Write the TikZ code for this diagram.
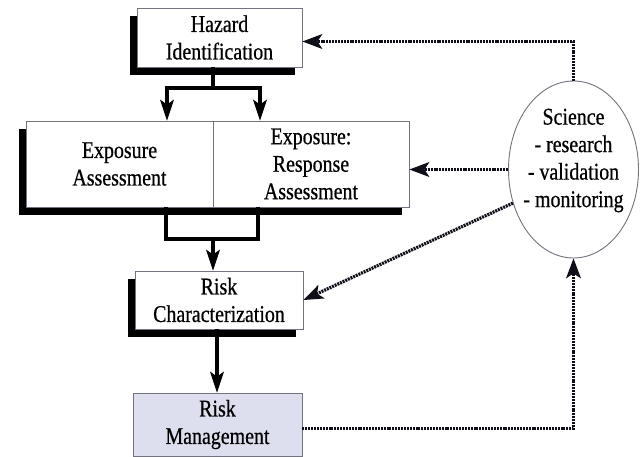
\documentclass[tikz,border=0pt]{standalone}
\usepackage{fontspec}
\setmainfont[FakeStretch=0.83,FakeBold=0.6]{Liberation Serif}
\usetikzlibrary{arrows.meta,backgrounds,shadows,shapes.geometric}
\definecolor{boxgray}{RGB}{115,115,128}
\definecolor{mgmtfill}{RGB}{221,223,238}
\definecolor{feedcol}{RGB}{15,15,25}
\begin{document}
\begin{tikzpicture}[x=1pt,y=-1pt,
  box/.style={draw=boxgray, line width=0.9pt, fill=white, align=center, inner sep=0pt,
    font=\fontsize{24}{27.5}\selectfont},
  shadowed/.style={drop shadow={shadow xshift=-7pt, shadow yshift=-8pt, fill=black, opacity=1}},
  solidline/.style={line width=3.2pt},
  flow/.style={line width=3.2pt, -{Stealth[length=21pt,width=14pt,inset=5pt,line width=1pt]}},
  feed/.style={line width=3.2pt, draw=feedcol, dash pattern=on 2pt off 0.9pt,
    -{Stealth[length=20pt,width=15pt,inset=5pt,line width=1pt]}}]
\useasboundingbox (0,0) rectangle (640,457);

\node[box, shadowed, minimum width=165pt, minimum height=59pt] (haz) at (219.5,37.5) {Hazard\\Identification};
\node[box, minimum width=187pt, minimum height=86pt] (expa) at (119.5,164) {Exposure\\Assessment};
\node[box, minimum width=196pt, minimum height=86pt] (expr) at (311,164) {Exposure:\\Response\\Assessment};
\node[box, shadowed, minimum width=168pt, minimum height=58pt] (rc) at (219,300) {Risk\\Characterization};
\node[box, fill=mgmtfill, minimum width=169pt, minimum height=63pt] (rm) at (217.5,424.5) {Risk\\Management};
\node[ellipse, draw=boxgray, line width=0.9pt, minimum width=130pt, minimum height=177pt, inner sep=0pt] (sci) at (573.5,169.5) {};
\node[align=center, inner sep=0pt, font=\fontsize{24}{27.5}\selectfont] (scitext) at ([yshift=9pt]sci.center) {Science\\- research\\- validation\\- monitoring};

\begin{scope}[on background layer]
  \fill[white] (0,0) rectangle (640,457);
  \fill[black] ([xshift=-7pt,yshift=-8pt]expa.north west) rectangle ([xshift=-7pt,yshift=-8pt]expr.south east);
\end{scope}

% hazard -> exposure
\coordinate (hj) at (213,88);
\coordinate (hl) at (167,88);
\coordinate (hr) at (260,88);
\draw[solidline] (hj |- haz.south) -- (hj);
\draw[flow] (hj) -| (hl |- expa.north);
\draw[flow] (hj) -| (hr |- expr.north);

% exposure -> risk characterization
\coordinate (el) at (166,239);
\coordinate (er) at (258,239);
\coordinate (ej) at (213,239);
\draw[solidline, line join=miter] (el |- expa.south) -- (el) -- (er) -- (er |- expr.south);
\draw[flow] (ej) -- (ej |- rc.north);

% risk characterization -> risk management
\draw[flow] ([xshift=-2pt]rc.south) -- ([xshift=-2pt]rc.south |- rm.north);

% science feedback
\draw[feed] (sci.north) |- ([yshift=-4pt]haz.east);
\draw[feed] (sci.west) -- (sci.west -| expr.east);
\draw[feed] (sci.209) -- (rc.east);
\draw[feed] ([yshift=-4pt]rm.east) -| (sci.south);
\end{tikzpicture}
\end{document}
